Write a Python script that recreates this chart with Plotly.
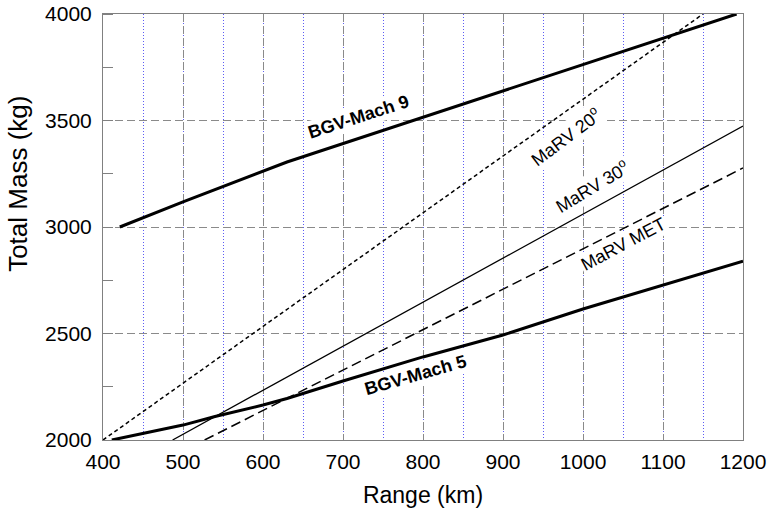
import plotly.graph_objects as go

# ---- data ----
mach9_x = [421, 500, 630, 800, 1000, 1192]
mach9_y = [3000, 3118, 3305, 3515, 3760, 4000]

mach5_x = [411, 500, 540, 600, 630, 700, 800, 900, 1000, 1100, 1200]
mach5_y = [2000, 2070, 2110, 2164, 2195, 2277, 2390, 2493, 2615, 2728, 2840]

marv20_x = [400, 1150]
marv20_y = [2000, 4000]

marv30_x = [487, 1200]
marv30_y = [2000, 3474]

marvmet_x = [527, 1200]
marvmet_y = [2000, 3277]

x_ticks = [400, 500, 600, 700, 800, 900, 1000, 1100, 1200]
y_ticks = [2000, 2500, 3000, 3500, 4000]

labels = [
    # text, x, y, angle, bold
    ("BGV-Mach 9", 719, 3516, -18, True),
    ("BGV-Mach 5", 791, 2305, -16, True),
    ("MaRV 20<sup>o</sup>", 979, 3423, -37, False),
    ("MaRV 30<sup>o</sup>", 1011, 3192, -31, False),
    ("MaRV MET", 1051, 2920, -28, False),
]

FONT = "Liberation Sans, Arial, sans-serif"

fig = go.Figure()
fig.add_trace(go.Scatter(x=marv20_x, y=marv20_y, mode="lines",
                         line=dict(color="black", width=1.5, dash="4px,3px"),
                         name="MaRV 20"))
fig.add_trace(go.Scatter(x=marv30_x, y=marv30_y, mode="lines",
                         line=dict(color="black", width=1.3),
                         name="MaRV 30"))
fig.add_trace(go.Scatter(x=marvmet_x, y=marvmet_y, mode="lines",
                         line=dict(color="black", width=1.5, dash="10px,5px"),
                         name="MaRV MET"))
fig.add_trace(go.Scatter(x=mach5_x, y=mach5_y, mode="lines",
                         line=dict(color="black", width=3),
                         name="BGV-Mach 5"))
fig.add_trace(go.Scatter(x=mach9_x, y=mach9_y, mode="lines",
                         line=dict(color="black", width=3),
                         name="BGV-Mach 9"))

for text, x, y, ang, bold in labels:
    fig.add_annotation(
        x=x, y=y, text=f"<b>{text}</b>" if bold else text,
        showarrow=False, textangle=ang,
        font=dict(family=FONT, size=18, color="black"),
        bgcolor="white", borderpad=1,
    )

# y-axis title (sits above the plot-area centre in the reference)
fig.add_annotation(
    xref="paper", yref="paper", x=-0.133, y=0.601,
    xanchor="center", yanchor="middle",
    text="Total Mass (kg)", showarrow=False, textangle=-90,
    font=dict(family=FONT, size=26, color="black"),
)

fig.update_xaxes(
    range=[400, 1200], tickvals=x_ticks, automargin=False,
    showline=True, mirror=True, linecolor="#808080", linewidth=1,
    showgrid=True, gridcolor="#8a8a8a", gridwidth=1, griddash="8px,4px",
    ticks="", ticklabelstandoff=3,
    tickfont=dict(family=FONT, size=21, color="black"),
    title=dict(text="Range (km)", font=dict(family=FONT, size=23, color="black"), standoff=14),
    zeroline=False,
    minor=dict(dtick=50, tick0=450, showgrid=True, gridcolor="#5c5cf5",
               gridwidth=1, griddash="1px,2px", ticks=""),
)
fig.update_yaxes(
    range=[2000, 4000], tickvals=y_ticks, automargin=False,
    showline=True, mirror=True, linecolor="#808080", linewidth=1,
    showgrid=True, gridcolor="#8a8a8a", gridwidth=1, griddash="8px,4px",
    ticks="outside", ticklen=6, tickcolor="rgba(255,255,255,0)",
    tickfont=dict(family=FONT, size=21, color="black"),
    zeroline=False,
    minor=dict(dtick=250, tick0=2250, showgrid=False, ticks="inside",
               ticklen=10, tickcolor="#808080"),
)

fig.update_layout(
    width=767, height=512,
    margin=dict(l=103, r=24, t=14, b=72),
    plot_bgcolor="white", paper_bgcolor="white",
    showlegend=False,
)

fig.write_html("out.html")
